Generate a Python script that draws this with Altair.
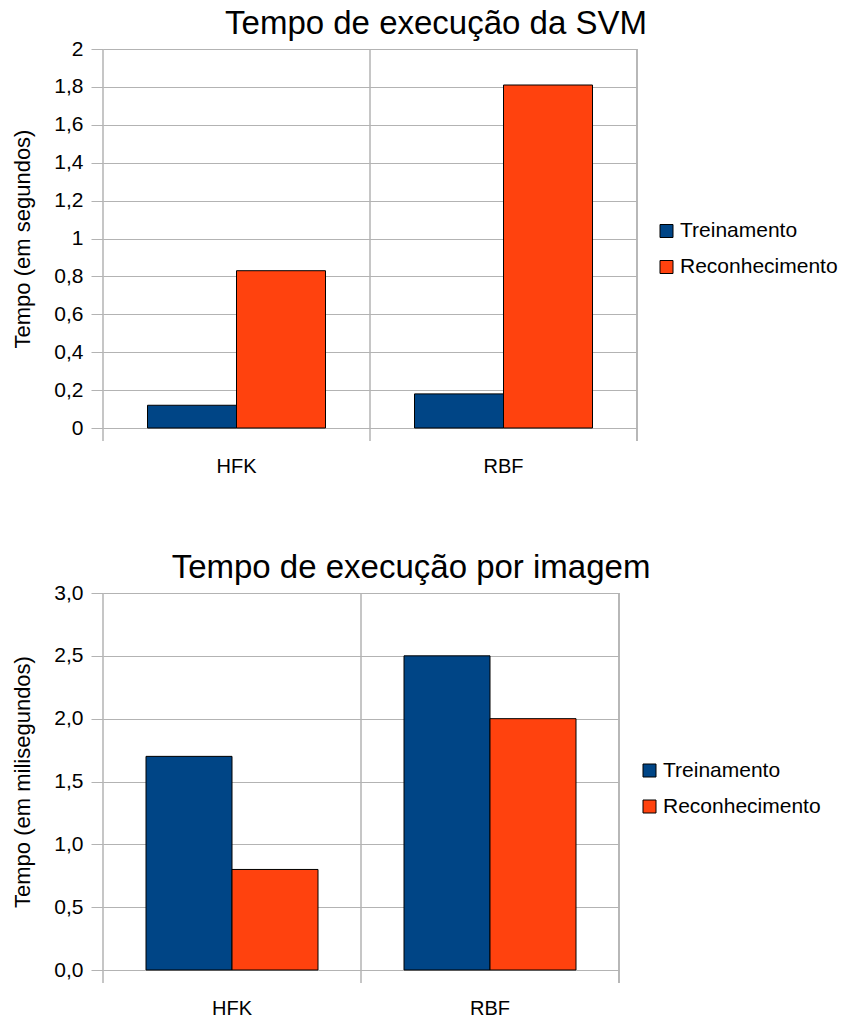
import altair as alt
import pandas as pd

kernels = ["HFK", "RBF"]
series = ["Treinamento", "Reconhecimento"]
svm_trein = [0.12, 0.18]
svm_recon = [0.83, 1.81]
img_trein = [1.7, 2.5]
img_recon = [0.8, 2.0]
svm_ticks = [0, 0.2, 0.4, 0.6, 0.8, 1.0, 1.2, 1.4, 1.6, 1.8, 2.0]
img_ticks = [0, 0.5, 1.0, 1.5, 2.0, 2.5, 3.0]
colors = ["#004586", "#ff420e"]
GRID = "#b3b3b3"


def make_df(tr, rc):
    rows = []
    for k, a, b in zip(kernels, tr, rc):
        rows.append({"Kernel": k, "Serie": series[0], "Tempo": a})
        rows.append({"Kernel": k, "Serie": series[1], "Tempo": b})
    return pd.DataFrame(rows)


def panel(df, title, ytitle, ymax, yvals, fmt, W, H, tx, lx, ly):
    base = alt.Chart(df)
    xscale = alt.Scale(paddingInner=0, paddingOuter=0)
    xaxis = alt.Axis(title=None, domain=False, ticks=False, tickSize=0, labelPadding=28,
                     labelFontSize=20, labelAngle=0, labelColor="black")
    bars = base.mark_bar(stroke="black", strokeWidth=1).encode(
        x=alt.X("Kernel:N", sort=kernels, scale=xscale, axis=xaxis),
        xOffset=alt.XOffset("Serie:N", sort=series,
                            scale=alt.Scale(paddingInner=0, paddingOuter=0.5)),
        y=alt.Y("Tempo:Q", scale=alt.Scale(domain=[0, ymax], nice=False),
                axis=alt.Axis(values=yvals,
                              labelExpr="replace(format(datum.value, '%s'), '.', ',')" % fmt,
                              title=ytitle, grid=True, gridColor=GRID, tickColor=GRID,
                              tickSize=12, domain=False, labelPadding=8, labelFontSize=21,
                              labelColor="black", titleFontSize=22, titleFontWeight="normal",
                              titleColor="black", titlePadding=19)),
        color=alt.Color("Serie:N", sort=series,
                        scale=alt.Scale(domain=series, range=colors),
                        legend=alt.Legend(title=None, orient="none", legendX=lx, legendY=ly,
                                          symbolType="square", symbolSize=169,
                                          labelFontSize=21, labelOffset=3, rowPadding=14,
                                          padding=0, symbolStrokeColor="black",
                                          symbolStrokeWidth=1, labelColor="black",
                                          labelLimit=400)),
    )
    seps = base.mark_rule(color=GRID, strokeWidth=1).encode(
        x=alt.X("Kernel:N", sort=kernels, scale=xscale, axis=xaxis, bandPosition=0),
        y=alt.value(0), y2=alt.value(H + 13),
    )
    right = base.mark_rule(color=GRID, strokeWidth=1).encode(
        x=alt.value(W), y=alt.value(0), y2=alt.value(H + 13),
    )
    ttl = alt.Chart(pd.DataFrame({"t": [title]})).mark_text(
        fontSize=33, baseline="alphabetic", align="center", color="black"
    ).encode(text="t:N", x=alt.value(tx), y=alt.value(-15))
    return alt.layer(seps, right, bars, ttl).properties(width=W, height=H)


top = panel(make_df(svm_trein, svm_recon), "Tempo de execução da SVM",
            "Tempo (em segundos)", 2, svm_ticks, ".1~f", 534, 379, 333, 553, 171.5)
bottom = panel(make_df(img_trein, img_recon), "Tempo de execução por imagem",
               "Tempo (em milisegundos)", 3, img_ticks, ".1f", 516, 377, 308, 536, 167)

chart = alt.vconcat(top, bottom, spacing=76).resolve_scale(
    x="independent", y="independent", xOffset="independent", color="independent"
).resolve_legend(color="independent").configure(
    font="Liberation Sans", background="white",
    padding={"left": 3, "top": 0, "right": 0, "bottom": 0}
).configure_view(stroke=None)

chart.save("out.html", embed_options={"renderer": "svg", "actions": False})
